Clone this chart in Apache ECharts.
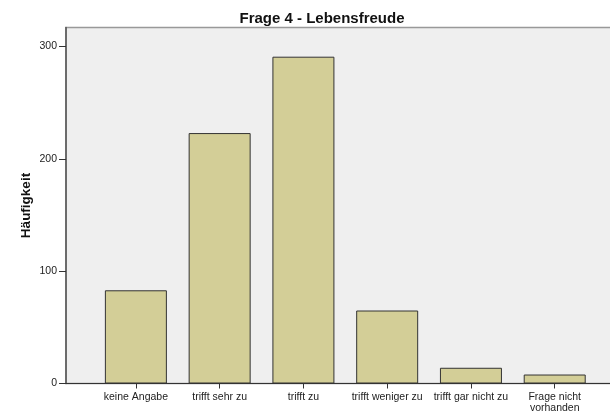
<!DOCTYPE html>
<html>
<head>
<meta charset="utf-8">
<script src="https://cdn.jsdelivr.net/npm/echarts@6/dist/echarts.min.js"></script>
<style>
  html, body { margin: 0; padding: 0; background: #fff; }
  #chart { width: 610px; height: 411px; }
</style>
</head>
<body>
<div id="chart"></div>
<script>
const categories = ["keine Angabe", "trifft sehr zu", "trifft zu", "trifft weniger zu", "trifft gar nicht zu", "Frage nicht\nvorhanden"];
const counts = [83, 223, 291, 65, 14, 8];
const yTicks = [0, 100, 200, 300];
const yMax = 317;

const chart = echarts.init(document.getElementById("chart"));
chart.setOption({
  animation: false,
  textStyle: { fontFamily: "Liberation Sans, Arial, sans-serif" },
  title: {
    text: "Frage 4 - Lebensfreude",
    left: 317,
    top: 6,
    textAlign: "center",
    textStyle: { fontSize: 15, fontWeight: "bold", color: "#111" }
  },
  grid: [
    // frame + grey plot background
    { left: 66, top: 27.5, right: -6, bottom: 27.5, show: true, outerBoundsMode: "none",
      backgroundColor: "#EFEFEF", borderColor: "#999", borderWidth: 1.5 },
    // bars, inset like SPSS does it
    { left: 94, top: 27.5, right: 13.4, bottom: 27.5, outerBoundsMode: "none" }
  ],
  xAxis: [
    { gridIndex: 0, type: "value", min: 0, max: 1,
      axisLine: { show: true, onZero: false, lineStyle: { color: "#333", width: 1.2 } },
      axisTick: { show: false }, axisLabel: { show: false }, splitLine: { show: false } },
    { gridIndex: 1, type: "category", data: categories,
      axisLine: { show: false },
      axisTick: { show: true, alignWithLabel: true, length: 5, lineStyle: { color: "#333" } },
      axisLabel: { interval: 0, fontSize: 10.5, color: "#222", margin: 8, lineHeight: 11 } }
  ],
  yAxis: [
    { gridIndex: 0, type: "value", min: 0, max: yMax,
      name: "Häufigkeit", nameLocation: "middle", nameGap: 33, nameMoveOverlap: false,
      nameTextStyle: { fontSize: 13.5, fontWeight: "bold", color: "#111" },
      axisLine: { show: true, lineStyle: { color: "#555", width: 1.5 } },
      axisTick: { show: true, length: 7, customValues: yTicks, lineStyle: { color: "#333" } },
      axisLabel: { fontSize: 10.5, color: "#222", margin: 9, customValues: yTicks },
      splitLine: { show: false } },
    { gridIndex: 1, type: "value", min: 0, max: yMax, show: false }
  ],
  series: [{
    type: "bar",
    xAxisIndex: 1,
    yAxisIndex: 1,
    data: counts,
    barWidth: 62,
    itemStyle: { color: "#D3CE97", borderColor: "#333", borderWidth: 1 }
  }]
});
</script>
</body>
</html>
